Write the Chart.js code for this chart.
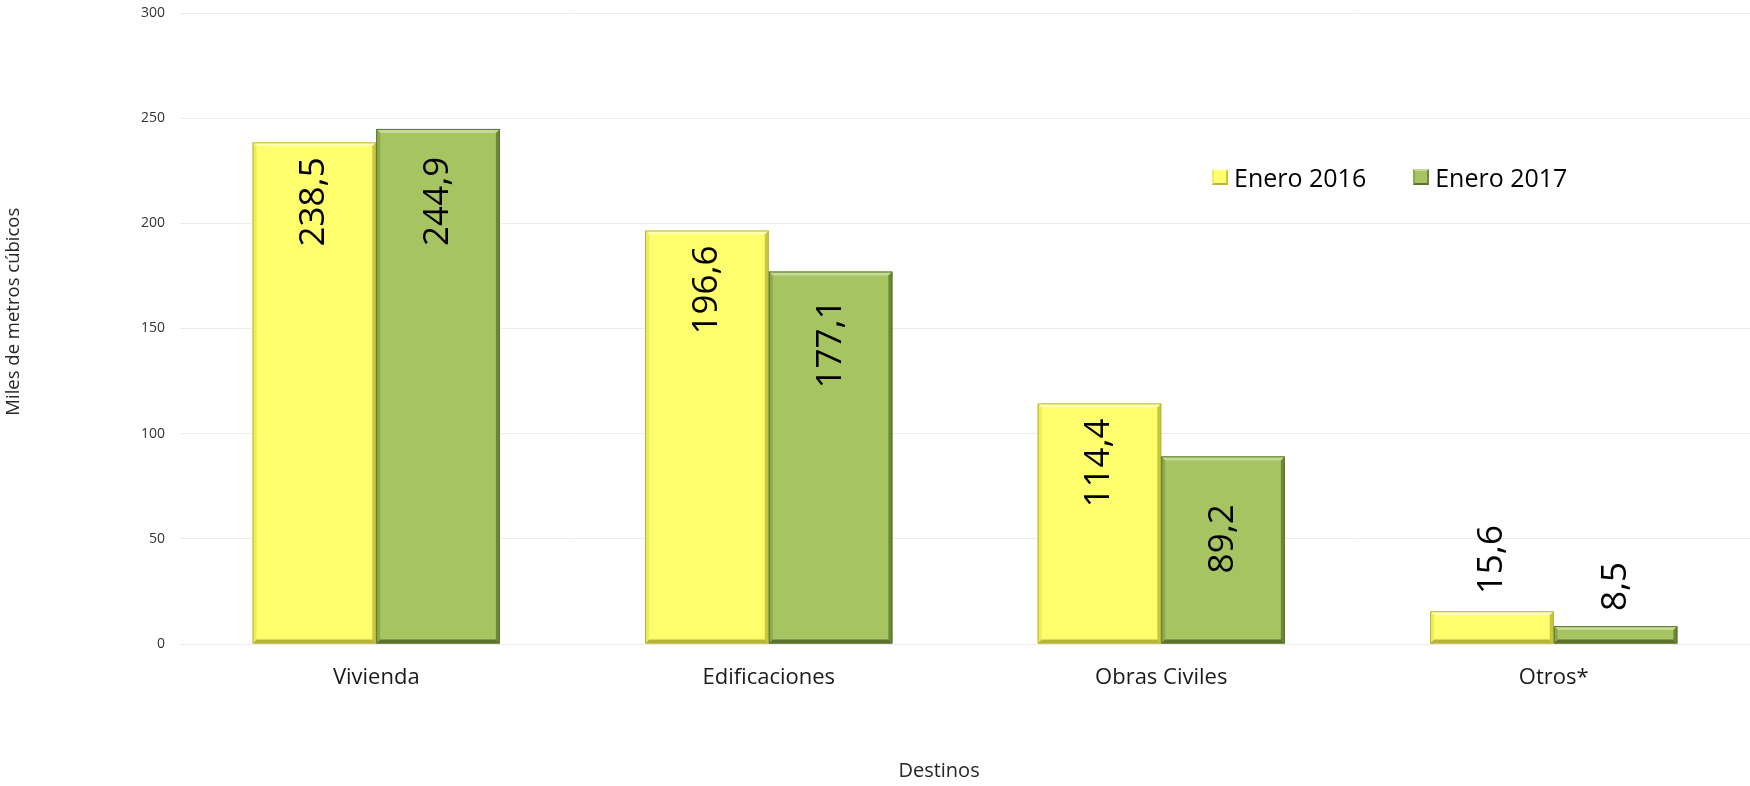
<!DOCTYPE html>
<html>
<head>
<meta charset="utf-8">
<script src="https://cdn.jsdelivr.net/npm/chart.js@4"></script>
<style>
  body { margin: 0; background: #fff; }
  #wrap { position: relative; width: 1750px; height: 786px; }
  #legend { position: absolute; left: 1212px; top: 160px; display: flex; font-family: "Open Sans", sans-serif; font-size: 25px; color: #000; }
  #legend .item { display: flex; align-items: center; margin-right: 47px; }
  #legend .box { width: 16px; height: 16px; margin-right: 6px; box-sizing: border-box; border: 2px solid; }
</style>
</head>
<body>
<div id="wrap">
  <canvas id="chart"></canvas>
  <div id="legend"></div>
</div>
<script>
const categories = ['Vivienda', 'Edificaciones', 'Obras Civiles', 'Otros*'];
const seriesNames = ['Enero 2016', 'Enero 2017'];
const values2016 = [238.5, 196.6, 114.4, 15.6];
const values2017 = [244.9, 177.1, 89.2, 8.5];
const yTicks = [0, 50, 100, 150, 200, 250, 300];

const FONT = '"Open Sans", sans-serif';

// bevel colours: fill, top highlight, left, right, bottom
const bevels = [
  { fill: '#FFFF6E', top: '#FFFFB0', left: '#EDED5C', right: '#C8C840', bottom: '#B5B53A' },
  { fill: '#A6C462', top: '#C4DA95', left: '#8DAA4E', right: '#6C8836', bottom: '#5A722D' }
];

// where the rotated value label goes (Excel put them a bit differently per series)
const labelPlacement = [
  { insideAlign: 'right', insideOffset: 15, outsideGap: 17 },
  { insideAlign: 'left', insideOffset: 117, outsideGap: 15 }
];

const fmt = v => v.toFixed(1).replace('.', ',');

const barDecor = {
  id: 'barDecor',
  afterDatasetsDraw(chart) {
    const ctx = chart.ctx;
    const b = 4;
    chart.data.datasets.forEach((ds, di) => {
      const meta = chart.getDatasetMeta(di);
      const c = bevels[di];
      meta.data.forEach((bar, i) => {
        const p = bar.getProps(['x', 'y', 'base', 'width'], true);
        const l = p.x - p.width / 2, r = p.x + p.width / 2, t = p.y, bt = p.base;
        const poly = (pts, col) => {
          ctx.beginPath();
          ctx.moveTo(pts[0][0], pts[0][1]);
          pts.slice(1).forEach(q => ctx.lineTo(q[0], q[1]));
          ctx.closePath();
          ctx.fillStyle = col;
          ctx.fill();
        };
        ctx.save();
        poly([[l, t], [r, t], [r - b, t + b], [l + b, t + b]], c.top);
        poly([[l, t], [l + b, t + b], [l + b, bt - b], [l, bt]], c.left);
        poly([[r, t], [r, bt], [r - b, bt - b], [r - b, t + b]], c.right);
        poly([[l, bt], [l + b, bt - b], [r - b, bt - b], [r, bt]], c.bottom);
        ctx.strokeStyle = c.bottom;
        ctx.lineWidth = 1;
        ctx.strokeRect(l + 0.5, t + 0.5, p.width - 1, bt - t - 1);
        ctx.restore();
      });
    });
    // value labels, rotated
    chart.data.datasets.forEach((ds, di) => {
      const meta = chart.getDatasetMeta(di);
      const pl = labelPlacement[di];
      meta.data.forEach((bar, i) => {
        const p = bar.getProps(['x', 'y', 'base'], true);
        const h = p.base - p.y;
        ctx.save();
        ctx.font = '35px ' + FONT;
        ctx.fillStyle = '#000';
        ctx.textBaseline = 'middle';
        if (h > 120) {
          ctx.translate(p.x, p.y + pl.insideOffset);
          ctx.textAlign = pl.insideAlign;
        } else {
          ctx.translate(p.x, p.y - pl.outsideGap);
          ctx.textAlign = 'left';
        }
        ctx.rotate(-Math.PI / 2);
        ctx.fillText(fmt(ds.data[i]), 0, 0);
        ctx.restore();
      });
    });
  }
};

const ctx = document.getElementById('chart').getContext('2d');
const chart = new Chart(ctx, {
  type: 'bar',
  data: {
    labels: categories,
    datasets: [
      { label: seriesNames[0], data: values2016, backgroundColor: bevels[0].fill, borderWidth: 0 },
      { label: seriesNames[1], data: values2017, backgroundColor: bevels[1].fill, borderWidth: 0 }
    ]
  },
  options: {
    responsive: true,
    maintainAspectRatio: false,
    animation: false,
    layout: { padding: { top: 13, left: 0, right: 0, bottom: 0 } },
    datasets: { bar: { categoryPercentage: 0.63, barPercentage: 1 } },
    plugins: {
      legend: { display: false },
      tooltip: { enabled: false }
    },
    scales: {
      x: {
        grid: { display: false, drawTicks: false },
        border: { display: false },
        ticks: { padding: 21, color: '#1a1a1a', font: { family: FONT, size: 22 } },
        // trailing spaces shift the title left like in the original
        title: { display: true, text: 'Destinos\u00A0\u00A0\u00A0\u00A0\u00A0\u00A0\u00A0\u00A0\u00A0\u00A0', color: '#262626', padding: { top: 0, bottom: 3 }, font: { family: FONT, size: 20 } },
        afterFit(scale) { scale.height = 142; }
      },
      y: {
        min: 0,
        max: 300,
        afterBuildTicks(scale) { scale.ticks = yTicks.map(v => ({ value: v })); },
        grid: { color: '#EBEBEB', drawTicks: false },
        border: { display: false },
        ticks: { padding: 15, color: '#333', font: { family: FONT, size: 14 } },
        title: { display: true, text: '\u00A0\u00A0\u00A0\u00A0\u00A0\u00A0\u00A0Miles de metros cúbicos', color: '#262626', padding: { top: 3, bottom: 0 }, font: { family: FONT, size: 18.5 } },
        afterFit(scale) {
          scale.width = 180;
          scale.paddingTop = 0;
          scale.paddingBottom = 0;
        }
      }
    }
  },
  plugins: [barDecor]
});

// legend built from the datasets
const legendEl = document.getElementById('legend');
chart.data.datasets.forEach((ds, di) => {
  const item = document.createElement('div');
  item.className = 'item';
  const box = document.createElement('span');
  box.className = 'box';
  box.style.background = ds.backgroundColor;
  box.style.borderColor = bevels[di].top + ' ' + bevels[di].right + ' ' + bevels[di].bottom + ' ' + bevels[di].left;
  const txt = document.createElement('span');
  txt.textContent = ds.label;
  item.appendChild(box);
  item.appendChild(txt);
  legendEl.appendChild(item);
});
</script>
</body>
</html>
